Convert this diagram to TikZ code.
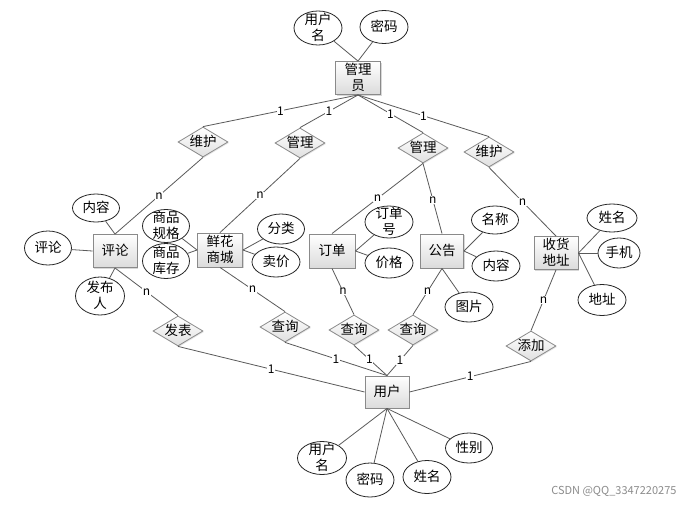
\documentclass[tikz,border=0pt]{standalone}
\usepackage{fontspec}
\setmainfont{Noto Sans CJK SC}
\usetikzlibrary{shapes.geometric,shadows}
\newcommand\ztx[1]{\makebox[0pt]{\smash{\raisebox{\dimexpr(\depth-\height)/2-1.3pt\relax}{\begin{tabular}{@{}c@{}}#1\end{tabular}}}}}
\definecolor{lncol}{HTML}{5A5A5A}
\definecolor{bdcol}{HTML}{8A8A8A}
\tikzset{
  ent/.style={rectangle, draw=bdcol, line width=0.9pt, top color=white, bottom color=black!14,
    inner sep=0pt, drop shadow={shadow xshift=1.3pt, shadow yshift=-1.3pt, opacity=0.3}},
  rel/.style={diamond, draw=bdcol, line width=0.8pt, top color=white, bottom color=black!12,
    inner sep=0pt, minimum width=50pt, minimum height=30pt,
    drop shadow={shadow xshift=1pt, shadow yshift=-1pt, opacity=0.2}},
  attr/.style={ellipse, draw=black!85, line width=0.8pt, fill=white, inner sep=0pt},
  ln/.style={draw=lncol, line width=0.8pt},
  lbl/.style={fill=white, inner sep=0.6pt, font=\fontsize{12}{13}\selectfont, text=black},
}
\begin{document}
\begin{tikzpicture}[x=1pt,y=-1pt,font=\fontsize{13.5}{16}\selectfont]
\useasboundingbox[fill=white] (0,0) rectangle (698,504);

% entities
\node[ent, minimum width=45pt, minimum height=33pt] (mgr) at (358,78) {\ztx{管理\\员}};
\node[ent, minimum width=44pt, minimum height=33pt] (pl) at (115,251) {\ztx{评论}};
\node[ent, minimum width=45pt, minimum height=34pt] (shop) at (220,250) {\ztx{鲜花\\商城}};
\node[ent, minimum width=46pt, minimum height=34pt] (ord) at (332,251) {\ztx{订单}};
\node[ent, minimum width=43pt, minimum height=34pt] (ann) at (442,251) {\ztx{公告}};
\node[ent, minimum width=44pt, minimum height=33pt] (addr) at (556,253) {\ztx{收货\\地址}};
\node[ent, minimum width=44pt, minimum height=32pt] (user) at (387,392) {\ztx{用户}};

% relations
\node[rel] (wh1) at (203,142) {\ztx{维护}};
\node[rel] (gl1) at (300,143) {\ztx{管理}};
\node[rel] (gl2) at (423,148) {\ztx{管理}};
\node[rel] (wh2) at (489,152) {\ztx{维护}};
\node[rel] (fb) at (178,331) {\ztx{发表}};
\node[rel] (cx1) at (285,327) {\ztx{查询}};
\node[rel] (cx2) at (354,330) {\ztx{查询}};
\node[rel] (cx3) at (413,330) {\ztx{查询}};
\node[rel] (tj) at (531,346) {\ztx{添加}};

% attributes
\node[attr, minimum width=48pt, minimum height=34pt] (a1) at (318,28) {\ztx{用户\\名}};
\node[attr, minimum width=48pt, minimum height=33pt] (a2) at (384,27) {\ztx{密码}};
\node[attr, minimum width=47pt, minimum height=28pt] (c1) at (96,208) {\ztx{内容}};
\node[attr, minimum width=47pt, minimum height=34pt] (c2) at (48,248) {\ztx{评论}};
\node[attr, minimum width=49pt, minimum height=38pt] (c3) at (100,296) {\ztx{发布\\人}};
\node[attr, minimum width=47pt, minimum height=33pt] (s1) at (166,226) {\ztx{商品\\规格}};
\node[attr, minimum width=47pt, minimum height=35pt] (s2) at (166,261) {\ztx{商品\\库存}};
\node[attr, minimum width=47pt, minimum height=30pt] (s3) at (281,229) {\ztx{分类}};
\node[attr, minimum width=48pt, minimum height=30pt] (s4) at (276,262) {\ztx{卖价}};
\node[attr, minimum width=48pt, minimum height=32pt] (o1) at (389,222) {\ztx{订单\\号}};
\node[attr, minimum width=48pt, minimum height=30pt] (o2) at (389,263) {\ztx{价格}};
\node[attr, minimum width=47pt, minimum height=28pt] (n1) at (495,220) {\ztx{名称}};
\node[attr, minimum width=48pt, minimum height=30pt] (n2) at (496,266) {\ztx{内容}};
\node[attr, minimum width=48pt, minimum height=30pt] (n3) at (469,307) {\ztx{图片}};
\node[attr, minimum width=50pt, minimum height=28pt] (d1) at (612,218) {\ztx{姓名}};
\node[attr, minimum width=42pt, minimum height=30pt] (d2) at (619,253) {\ztx{手机}};
\node[attr, minimum width=48pt, minimum height=31pt] (d3) at (602,300) {\ztx{地址}};
\node[attr, minimum width=49pt, minimum height=33pt] (u1) at (322,458) {\ztx{用户\\名}};
\node[attr, minimum width=48pt, minimum height=34pt] (u2) at (370,480) {\ztx{密码}};
\node[attr, minimum width=48pt, minimum height=33pt] (u3) at (427,477) {\ztx{姓名}};
\node[attr, minimum width=47pt, minimum height=30pt] (u4) at (469,448) {\ztx{性别}};

% attribute lines
\draw[ln] (a1) -- (mgr.north);
\draw[ln] (a2) -- (mgr.north);
\draw[ln] (c1) -- (pl.north);
\draw[ln] (c2) -- (pl.west);
\draw[ln] (c3) -- (pl.south);
\draw[ln] (s1) -- (shop.west);
\draw[ln] (s2) -- (shop.west);
\draw[ln] (s3) -- (shop.east);
\draw[ln] (s4) -- (shop.east);
\draw[ln] (o1) -- (ord.east);
\draw[ln] (o2) -- (ord.east);
\draw[ln] (n1) -- (ann.east);
\draw[ln] (n2) -- (ann.east);
\draw[ln] (n3) -- (ann.south);
\draw[ln] (d1) -- (addr.east);
\draw[ln] (d2) -- (addr.east);
\draw[ln] (d3) -- (addr.east);
\draw[ln] (u1) -- (user.south);
\draw[ln] (u2) -- (user.south);
\draw[ln] (u3) -- (user.south);
\draw[ln] (u4) -- (user.south);

% relationship lines
\draw[ln] (mgr.south) -- node[lbl]{1} (wh1.north);
\draw[ln] (mgr.south) -- node[lbl]{1} (gl1.north);
\draw[ln] (mgr.south) -- node[lbl]{1} (gl2.north);
\draw[ln] (mgr.south) -- node[lbl]{1} (wh2.north);
\draw[ln] (wh1.south) -- node[lbl]{n} (pl.north);
\draw[ln] (gl1.south) -- node[lbl]{n} (shop.north);
\draw[ln] (gl2.south) -- node[lbl]{n} (ord.north);
\draw[ln] (gl2.south) -- node[lbl, pos=0.52]{n} (ann.north);
\draw[ln] (wh2.south) -- node[lbl]{n} (addr.north);
\draw[ln] (pl.south) -- node[lbl]{n} (fb.north);
\draw[ln] (shop.south) -- node[lbl]{n} (cx1.north);
\draw[ln] (ord.south) -- node[lbl]{n} (cx2.north);
\draw[ln] (ann.south) -- node[lbl]{n} (cx3.north);
\draw[ln] (addr.south) -- node[lbl]{n} (tj.north);
\draw[ln] (fb.south) -- node[lbl]{1} (user.west);
\draw[ln] (cx1.south) -- node[lbl]{1} (user.north);
\draw[ln] (cx2.south) -- node[lbl, pos=0.47]{1} (user.north);
\draw[ln] (cx3.south) -- node[lbl]{1} (user.north);
\draw[ln] (tj.south) -- node[lbl]{1} (user.east);

% watermark
\node[text=black!45, font=\fontsize{11}{12}\selectfont, anchor=east] (wm) at (680,491) {CSDN @QQ\_3347220275};
\end{tikzpicture}
\end{document}
